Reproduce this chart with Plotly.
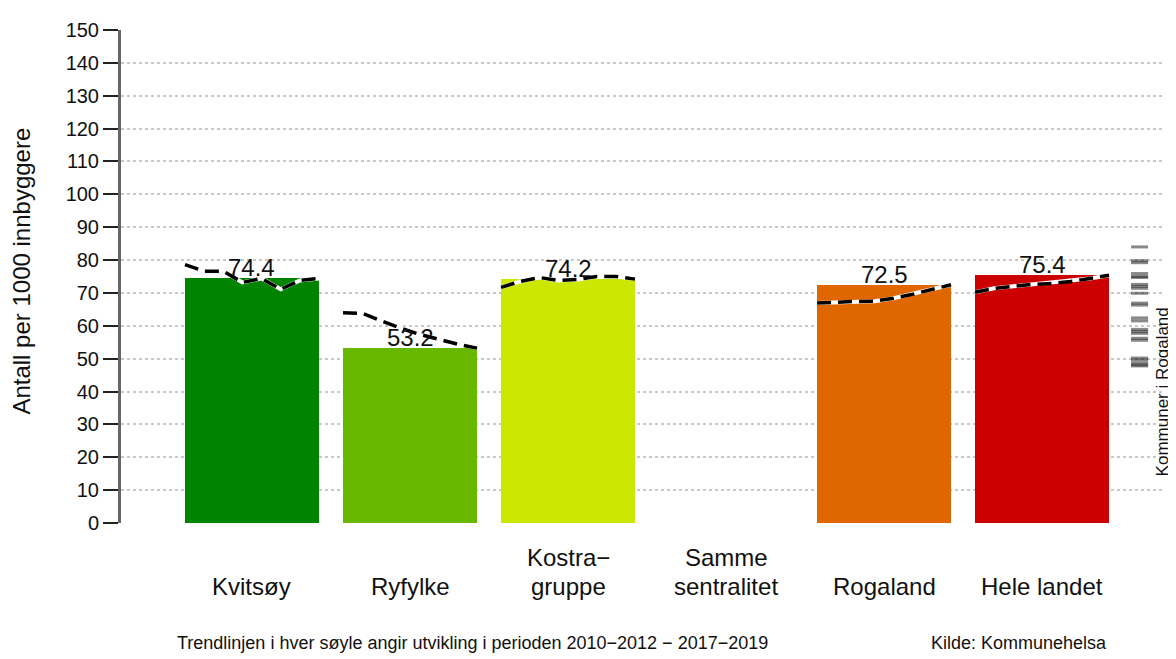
import plotly.graph_objects as go

categories = ["Kvitsøy", "Ryfylke", "Kostra−\ngruppe", "Samme\nsentralitet", "Rogaland", "Hele landet"]
values = [74.4, 53.2, 74.2, None, 72.5, 75.4]
colors = ["#008400", "#68b800", "#cce800", "#ffffff", "#e06600", "#cc0000"]

# trend per bar, periods 2010-2012 ... 2017-2019
periods = ["2010-2012", "2011-2013", "2012-2014", "2013-2015",
           "2014-2016", "2015-2017", "2016-2018", "2017-2019"]
trend_kvitsoy = [78.6, 76.6, 76.6, 73.2, 74.4, 71.1, 73.8, 74.4]
trend_ryfylke = [64.0, 63.8, 61.5, 59.3, 57.4, 55.9, 54.4, 53.2]
trend_kostra = [71.7, 73.5, 74.7, 73.8, 74.1, 75.0, 75.0, 74.2]
trend_samme = None
trend_rogaland = [66.9, 67.2, 67.4, 67.5, 68.4, 69.6, 71.1, 72.5]
trend_landet = [70.2, 71.4, 72.0, 72.6, 72.9, 73.5, 74.4, 75.4]
trends = [trend_kvitsoy, trend_ryfylke, trend_kostra, trend_samme, trend_rogaland, trend_landet]

# kommuner i Rogaland (rug on the right)
kommuner = [84.0, 79.8, 79.2, 75.9, 75.0, 74.7, 72.6, 72.0, 71.4, 69.9, 66.9, 66.3,
            62.4, 61.5, 58.9, 58.3, 57.7, 56.2, 55.6, 50.2, 49.6, 48.7, 48.1, 47.8]

FONT = "Liberation Sans, Arial, sans-serif"
bar_w = 0.848
xs = list(range(len(categories)))

fig = go.Figure()
fig.add_trace(go.Bar(x=xs, y=[v if v is not None else 0 for v in values],
                     marker=dict(color=colors, line=dict(width=0)),
                     width=bar_w, hoverinfo="skip"))

for i, tr in enumerate(trends):
    if tr is None:
        continue
    n = len(tr)
    tx = [i - bar_w / 2 + bar_w * k / (n - 1) for k in range(n)]
    fig.add_trace(go.Scatter(x=tx, y=tr, mode="lines",
                             line=dict(color="white", width=4), hoverinfo="skip"))
    fig.add_trace(go.Scatter(x=tx, y=tr, mode="lines",
                             line=dict(color="black", width=3.5, dash="14px,7px"),
                             hoverinfo="skip"))

# rug
rx, ry = [], []
for v in kommuner:
    rx += [5.563, 5.671, None]
    ry += [v, v, None]
fig.add_trace(go.Scatter(x=rx, y=ry, mode="lines",
                         line=dict(color="rgba(40,40,40,0.55)", width=3), hoverinfo="skip"))

ann = []
for i, v in enumerate(values):
    if v is None:
        continue
    ann.append(dict(x=i, y=v, xref="x", yref="y", text=f"{v:.1f}", showarrow=False,
                    yanchor="bottom", yshift=-5, font=dict(size=24, color="#111")))

for i, c in enumerate(categories):
    lines = c.split("\n")
    for j, ln in enumerate(reversed(lines)):
        ann.append(dict(x=i, y=-(588 - 523) / 502 + j * 30 / 502, xref="x", yref="paper",
                        text=ln, showarrow=False, yanchor="middle",
                        font=dict(size=24, color="#111")))

ann.append(dict(x=(22 - 121) / 1044, y=(523 - 267) / 502, xref="paper", yref="paper",
                text="Antall per 1000 innbyggere", textangle=-90, showarrow=False,
                xanchor="center", yanchor="middle", font=dict(size=24, color="#111")))
ann.append(dict(x=(1162 - 121) / 1044, y=(523 - 390) / 502, xref="paper", yref="paper",
                text="Kommuner i Rogaland", textangle=-90, showarrow=False,
                xanchor="center", yanchor="middle", font=dict(size=17, color="#111")))
ann.append(dict(x=(472 - 121) / 1044, y=-(645 - 523) / 502, xref="paper", yref="paper",
                text="Trendlinjen i hver søyle angir utvikling i perioden 2010−2012 − 2017−2019",
                showarrow=False, xanchor="center", yanchor="middle",
                font=dict(size=18, color="#111")))
ann.append(dict(x=(1019 - 121) / 1044, y=-(645 - 523) / 502, xref="paper", yref="paper",
                text="Kilde: Kommunehelsa", showarrow=False, xanchor="center", yanchor="middle",
                font=dict(size=18, color="#111")))

# page body has an 8px margin, so the figure is laid out 8px smaller
fig.update_layout(
    width=1168, height=651,
    margin=dict(l=113, r=11, t=13, b=136),
    plot_bgcolor="white", paper_bgcolor="white",
    showlegend=False, bargap=0,
    font=dict(family=FONT, color="#111"),
    annotations=ann,
    xaxis=dict(range=[-0.829, 5.778], showticklabels=False, showgrid=False,
               zeroline=False, showline=False, ticks=""),
    yaxis=dict(range=[0, 150], tickvals=list(range(0, 151, 10)),
               showline=True, linecolor="#666", linewidth=3,
               ticks="outside", ticklen=15, tickwidth=2, tickcolor="#222",
               tickfont=dict(size=20, color="#111"),
               showgrid=True, gridcolor="#c8c8c8", gridwidth=1.5, griddash="dot",
               zeroline=False, layer="below traces"),
)

fig.write_html("out.html")
